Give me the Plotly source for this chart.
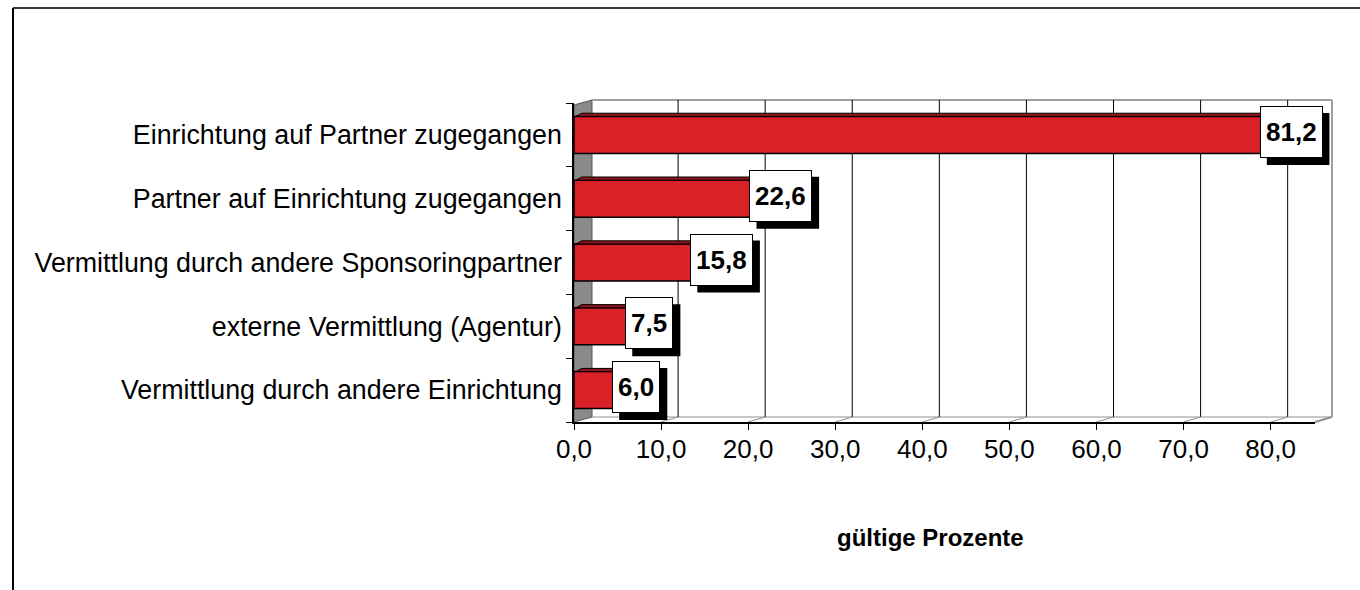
import plotly.graph_objects as go

categories = [
    "Einrichtung auf Partner zugegangen",
    "Partner auf Einrichtung zugegangen",
    "Vermittlung durch andere Sponsoringpartner",
    "externe Vermittlung (Agentur)",
    "Vermittlung durch andere Einrichtung",
]
values = [81.2, 22.6, 15.8, 7.5, 6.0]
value_labels = ["81,2", "22,6", "15,8", "7,5", "6,0"]
tick_values = [0, 10, 20, 30, 40, 50, 60, 70, 80]
tick_labels = ["0,0", "10,0", "20,0", "30,0", "40,0", "50,0", "60,0", "70,0", "80,0"]
axis_title = "gültige Prozente"

W, H = 1360, 590
L, R, T, B = 574, 1315, 103, 422  # plot area in pixels
XMAX = 85.09
ppu = (R - L) / XMAX

def px(p):
    return (p - L) / (R - L)

def py(p):
    return (B - p) / (B - T)

FONT = "Liberation Sans, Arial, sans-serif"
RED = "#DA2128"
DARKRED = "#8E1518"
BAR_W = 0.58
DEPTH_X = 17 / ppu      # back-plane offset, data units
LABEL_SIZE = 26
BOX_H = 52
BOX_PAD = 5
BOX_DX, BOX_DY = 10, 3       # box centre offset from bar end (px)
SHADOW = 7                   # shadow offset (px)

def text_w(s, size):
    # approximate Arial-bold advance widths
    w = {",": 0.278, ".": 0.278}
    return sum(w.get(c, 0.556) for c in s) * size

idx = list(range(len(categories)))

fig = go.Figure()

fig.add_trace(go.Bar(
    x=values, y=idx, orientation="h", width=BAR_W,
    marker=dict(color=RED, line=dict(color="black", width=1.5)),
    hoverinfo="skip", showlegend=False,
))

# thin 3-D top faces of the bars
for i, v in zip(idx, values):
    top = i - BAR_W / 2
    fig.add_trace(go.Scatter(
        x=[0.2, 0.2 + 0.7, v + 0.7, v, 0.2],
        y=[top, top - 0.05, top - 0.05, top, top],
        mode="lines", fill="toself", fillcolor=DARKRED,
        line=dict(color="black", width=1), hoverinfo="skip", showlegend=False,
    ))

shapes = []
# outer frame
shapes.append(dict(type="line", xref="paper", yref="paper", x0=px(13), x1=px(1360), y0=py(8), y1=py(8),
                   line=dict(color="#3a3a3a", width=2)))
shapes.append(dict(type="line", xref="paper", yref="paper", x0=px(13), x1=px(13), y0=py(8), y1=py(590),
                   line=dict(color="black", width=2)))
# left wall (gray)
shapes.append(dict(type="path", xref="paper", yref="paper", layer="below",
                   path=f"M {px(574)},{py(105)} L {px(592)},{py(100)} L {px(592)},{py(417)} L {px(574)},{py(422)} Z",
                   fillcolor="#8a8a8a", line=dict(color="#555555", width=1)))
# back wall borders
shapes.append(dict(type="line", xref="paper", yref="paper", layer="below",
                   x0=px(592), x1=px(1332), y0=py(100), y1=py(100), line=dict(color="#a0a0a0", width=2)))
shapes.append(dict(type="line", xref="paper", yref="paper", layer="below",
                   x0=px(1332), x1=px(1332), y0=py(100), y1=py(417), line=dict(color="#a0a0a0", width=2)))
# floor
shapes.append(dict(type="line", xref="paper", yref="paper", layer="below",
                   x0=px(592), x1=px(1332), y0=py(417), y1=py(417), line=dict(color="#909090", width=1)))
shapes.append(dict(type="line", xref="paper", yref="paper", layer="below",
                   x0=px(1315), x1=px(1332), y0=py(422), y1=py(417), line=dict(color="#909090", width=2)))
# back-plane gridlines
for t in tick_values[1:]:
    shapes.append(dict(type="line", xref="x", yref="paper", layer="below",
                       x0=t + DEPTH_X, x1=t + DEPTH_X, y0=py(417), y1=py(100),
                       line=dict(color="black", width=1)))
    shapes.append(dict(type="line", xref="x", yref="paper", layer="below",
                       x0=t + DEPTH_X, x1=t, y0=py(417), y1=py(422),
                       line=dict(color="#909090", width=1)))

annotations = []
for i, v, lab in zip(idx, values, value_labels):
    bw = text_w(lab, LABEL_SIZE) + 2 * (BOX_PAD + 1)
    # drop shadow behind the label box (x anchored in paper units so it is not clipped)
    shapes.append(dict(type="rect", layer="above",
                       xref="paper", yref="y", xsizemode="pixel", ysizemode="pixel",
                       xanchor=v / XMAX, yanchor=i,
                       x0=BOX_DX - bw / 2 + SHADOW, x1=BOX_DX + bw / 2 + SHADOW,
                       y0=BOX_DY - BOX_H / 2 - SHADOW, y1=BOX_DY + BOX_H / 2 - SHADOW,
                       fillcolor="black", line=dict(width=0)))
    annotations.append(dict(x=v, y=i, xref="x", yref="y", text=lab, showarrow=False,
                            xshift=BOX_DX, yshift=BOX_DY, height=BOX_H - 2 * (BOX_PAD + 1),
                            borderpad=BOX_PAD,
                            bgcolor="white", bordercolor="black", borderwidth=1,
                            font=dict(family=FONT, size=LABEL_SIZE, color="black", weight="bold")))

annotations.append(dict(x=px(930), y=py(537), xref="paper", yref="paper", text=axis_title,
                        showarrow=False, xanchor="center", yanchor="middle",
                        font=dict(family=FONT, size=24, color="black", weight="bold")))

fig.update_layout(
    width=W, height=H,
    margin=dict(l=L, r=W - R, t=T, b=H - B, pad=0),
    paper_bgcolor="white", plot_bgcolor="white",
    font=dict(family=FONT, size=26, color="black"),
    shapes=shapes, annotations=annotations,
    xaxis=dict(range=[0, XMAX], showgrid=False, zeroline=False,
               tickvals=tick_values, ticktext=tick_labels,
               ticks="outside", ticklen=6, tickcolor="black",
               ticklabelstandoff=-3,
               showline=True, linecolor="black", linewidth=1.5,
               tickfont=dict(family=FONT, size=26)),
    yaxis=dict(range=[4.5, -0.5], showgrid=False, zeroline=False,
               tickvals=idx, ticktext=categories, ticks="",
               ticklabelstandoff=5,
               minor=dict(tickvals=[k - 0.5 for k in idx] + [len(idx) - 0.5],
                          ticks="outside", ticklen=6, tickcolor="black"),
               showline=True, linecolor="black", linewidth=1.5,
               tickfont=dict(family=FONT, size=26.8)),
)

fig.write_html("out.html", config={"displayModeBar": False},
               post_script="document.body.style.margin='0';document.body.style.overflow='hidden';")
